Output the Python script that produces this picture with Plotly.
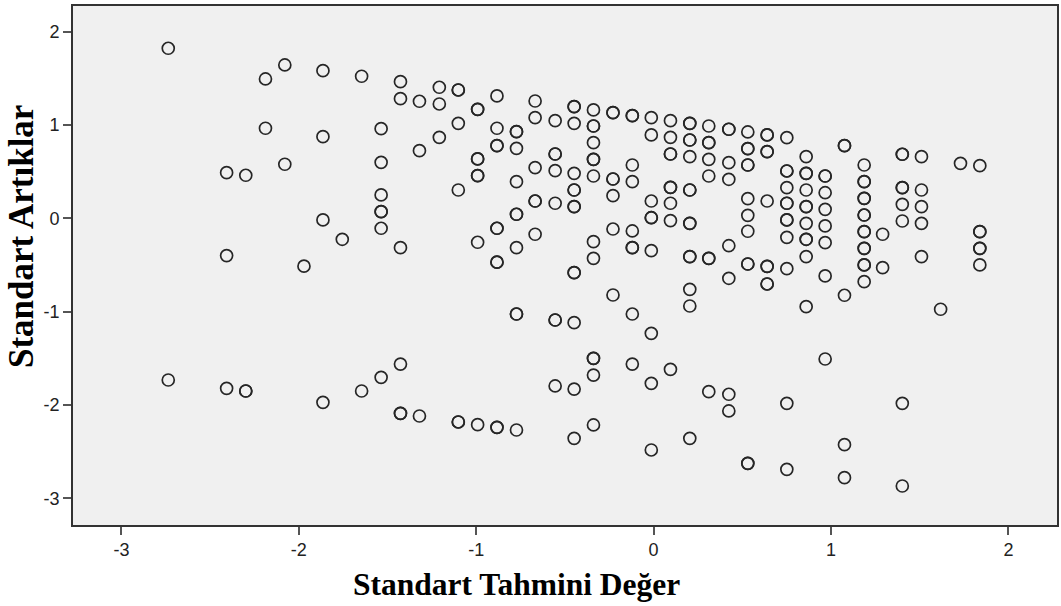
import plotly.graph_objects as go

# Standardized predicted values (x) and standardized residuals (y), read column by column.
# overlap = 2 where the reference shows a darker (double) circle.
pred_x = (
    [-2.736] * 2 + [-2.407] * 3 + [-2.299] * 2 + [-2.188] * 2 + [-2.079] * 2 + [-1.971] * 1
    + [-1.864] * 4 + [-1.755] * 1 + [-1.646] * 2 + [-1.536] * 6 + [-1.427] * 5 + [-1.320] * 3
    + [-1.208] * 3 + [-1.101] * 4 + [-0.992] * 5 + [-0.883] * 6 + [-0.773] * 7 + [-0.668] * 5
    + [-0.555] * 6 + [-0.448] * 9 + [-0.339] * 10 + [-0.229] * 5 + [-0.120] * 7 + [-0.013] * 8
    + [0.095] * 7 + [0.204] * 9 + [0.311] * 6 + [0.424] * 7 + [0.531] * 8 + [0.640] * 5
    + [0.751] * 9 + [0.860] * 8 + [0.967] * 7 + [1.076] * 4 + [1.187] * 8 + [1.291] * 2
    + [1.402] * 6 + [1.510] * 5 + [1.618] * 1 + [1.730] * 1 + [1.839] * 4
)
resid_y = [
    1.822, -1.733,
    0.489, -0.400, -1.822,
    0.461, -1.851,
    1.493, 0.965,
    1.643, 0.579,
    -0.513,
    1.582, 0.875, -0.018, -1.972,
    -0.225,
    1.522, -1.851,
    0.960, 0.600, 0.250, 0.071, -0.107, -1.704,
    1.464, 1.282, -0.315, -1.562, -2.090,
    1.254, 0.725, -2.119,
    1.404, 1.225, 0.868,
    1.375, 1.018, 0.303, -2.183,
    1.168, 0.636, 0.457, -0.257, -2.212,
    1.311, 0.965, 0.778, -0.107, -0.470, -2.240,
    0.928, 0.750, 0.392, 0.043, -0.315, -1.026, -2.269,
    1.257, 1.078, 0.542, 0.185, -0.171,
    1.046, 0.689, 0.510, 0.161, -1.090, -1.797,
    1.196, 1.018, 0.482, 0.303, 0.124, -0.583, -1.119, -1.830, -2.358,
    1.161, 0.989, 0.810, 0.632, 0.453, -0.251, -0.429, -1.501, -1.680, -2.215,
    1.132, 0.421, 0.242, -0.115, -0.822,
    1.100, 0.571, 0.392, -0.136, -0.315, -1.026, -1.562,
    1.078, 0.893, 0.185, 0.006, -0.347, -1.233, -1.769, -2.483,
    1.046, 0.868, 0.689, 0.332, 0.161, -0.025, -1.619,
    1.018, 0.839, 0.660, 0.303, -0.054, -0.411, -0.761, -0.940, -2.358,
    0.989, 0.810, 0.632, 0.453, -0.429, -1.858,
    0.954, 0.596, 0.418, -0.294, -0.643, -1.886, -2.065,
    0.925, 0.746, 0.571, 0.210, 0.032, -0.139, -0.490, -2.626,
    0.893, 0.714, 0.185, -0.515, -0.704,
    0.864, 0.507, 0.328, 0.161, -0.018, -0.204, -0.540, -1.983, -2.690,
    0.660, 0.482, 0.303, 0.124, -0.054, -0.225, -0.411, -0.947,
    0.453, 0.274, 0.096, -0.082, -0.261, -0.618, -1.508,
    0.778, -0.825, -2.426, -2.780,
    0.571, 0.392, 0.214, 0.035, -0.143, -0.322, -0.500, -0.679,
    -0.171, -0.529,
    0.686, 0.328, 0.150, -0.029, -1.983, -2.869,
    0.660, 0.303, 0.124, -0.054, -0.411,
    -0.975,
    0.589,
    0.564, -0.143, -0.322, -0.500,
]
overlap = [
    1, 1,
    1, 1, 1,
    1, 2,
    1, 1,
    1, 1,
    1,
    1, 1, 1, 1,
    1,
    1, 1,
    1, 1, 1, 2, 1, 1,
    1, 1, 1, 1, 2,
    1, 1, 1,
    1, 1, 1,
    2, 1, 1, 2,
    2, 2, 2, 1, 1,
    1, 1, 2, 2, 2, 2,
    2, 1, 1, 2, 1, 2, 1,
    1, 1, 1, 2, 1,
    1, 2, 1, 1, 2, 1,
    2, 1, 1, 2, 2, 2, 1, 1, 1,
    1, 2, 1, 2, 1, 1, 1, 2, 1, 1,
    2, 2, 1, 1, 1,
    2, 1, 1, 1, 2, 1, 1,
    1, 1, 1, 2, 1, 1, 1, 1,
    1, 1, 2, 2, 1, 1, 1,
    2, 2, 1, 2, 2, 2, 1, 1, 1,
    1, 2, 1, 1, 2, 1,
    2, 1, 1, 1, 1, 1, 1,
    1, 2, 2, 1, 1, 1, 2, 2,
    2, 2, 1, 2, 2,
    1, 2, 1, 2, 2, 1, 1, 1, 1,
    1, 2, 1, 2, 1, 2, 1, 1,
    2, 1, 1, 1, 1, 1, 1,
    2, 1, 1, 1,
    1, 2, 2, 2, 2, 2, 2, 1,
    1, 1,
    2, 2, 1, 1, 1, 1,
    1, 1, 1, 1, 1,
    1,
    1,
    1, 2, 2, 1,
]

x_ticks = [-3, -2, -1, 0, 1, 2]
y_ticks = [-3, -2, -1, 0, 1, 2]
x_title = "Standart Tahmini Değer"
y_title = "Standart Artıklar"

xs, ys = [], []
for xv, yv, n in zip(pred_x, resid_y, overlap):
    for _ in range(n):
        xs.append(xv)
        ys.append(yv)

fig = go.Figure()
fig.add_trace(go.Scatter(
    x=xs, y=ys, mode="markers",
    marker=dict(symbol="circle-open", size=12, color="#262626",
                line=dict(width=1.7, color="#262626")),
    hoverinfo="x+y", showlegend=False,
))

axis_common = dict(
    showgrid=False, zeroline=False, showline=True, mirror=True,
    linecolor="#333333", linewidth=1.6,
    ticks="outside", ticklen=8, tickwidth=1.6, tickcolor="#555555",
    tickfont=dict(family="Liberation Sans, Arial, sans-serif", size=18, color="#222222"),
)
fig.update_xaxes(range=[-3.273, 2.274], tickvals=x_ticks, ticktext=[str(v) for v in x_ticks], **axis_common)
fig.update_yaxes(range=[-3.287, 2.275], tickvals=y_ticks, ticktext=[str(v) for v in y_ticks], **axis_common)

fig.add_annotation(text=f"<b>{x_title}</b>", xref="paper", yref="paper",
                   x=0.4508, y=-0.1146, xanchor="center", yanchor="middle", showarrow=False,
                   font=dict(family="Liberation Serif, Times New Roman, serif", size=31.5, color="#000000"))
fig.add_annotation(text=f"<b>{y_title}</b>", xref="paper", yref="paper",
                   x=-0.0517, y=0.555, xanchor="center", yanchor="middle", showarrow=False,
                   textangle=-90,
                   font=dict(family="Liberation Serif, Times New Roman, serif", size=35, color="#000000"))

fig.update_layout(
    width=1061, height=606,
    margin=dict(l=73, r=2, t=6, b=81),
    paper_bgcolor="#ffffff", plot_bgcolor="#f0f0f0",
)

fig.write_html("out.html")
